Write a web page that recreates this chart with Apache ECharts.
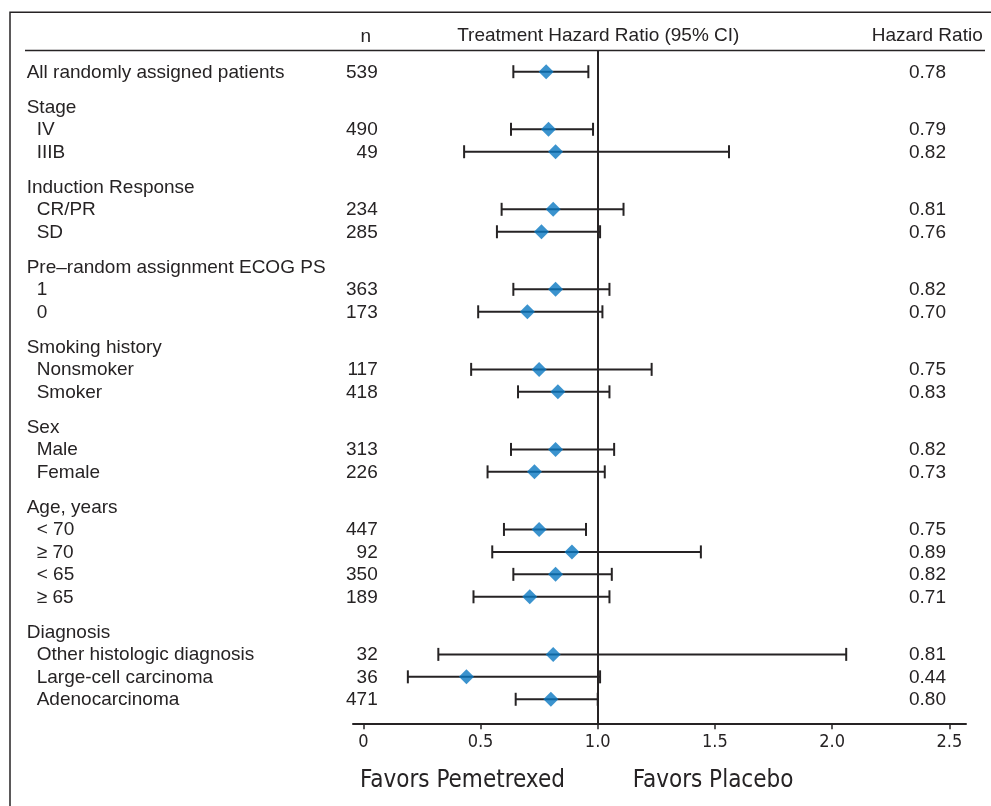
<!DOCTYPE html>
<html>
<head>
<meta charset="utf-8">
<script src="https://cdn.jsdelivr.net/npm/echarts@6/dist/echarts.min.js"></script>
<style>
html,body{margin:0;padding:0;background:#fff;}
#chart{width:991px;height:806px;}
</style>
</head>
<body>
<div id="chart"></div>
<script>
// ---- data ----
const rowLabels = [
  'All randomly assigned patients',
  'Stage', 'IV', 'IIIB',
  'Induction Response', 'CR/PR', 'SD',
  'Pre\u2013random assignment ECOG PS', '1', '0',
  'Smoking history', 'Nonsmoker', 'Smoker',
  'Sex', 'Male', 'Female',
  'Age, years', '< 70', '\u2265 70', '< 65', '\u2265 65',
  'Diagnosis', 'Other histologic diagnosis', 'Large-cell carcinoma', 'Adenocarcinoma'
];
const rowKinds = [
  'total',
  'group', 'item', 'item',
  'group', 'item', 'item',
  'group', 'item', 'item',
  'group', 'item', 'item',
  'group', 'item', 'item',
  'group', 'item', 'item', 'item', 'item',
  'group', 'item', 'item', 'item'
];
const nValues = [539, null, 490, 49, null, 234, 285, null, 363, 173, null, 117, 418, null, 313, 226, null, 447, 92, 350, 189, null, 32, 36, 471];
const hazardRatios = [0.78, null, 0.79, 0.82, null, 0.81, 0.76, null, 0.82, 0.70, null, 0.75, 0.83, null, 0.82, 0.73, null, 0.75, 0.89, 0.82, 0.71, null, 0.81, 0.44, 0.80];
const ciLower = [0.64, null, 0.63, 0.43, null, 0.59, 0.57, null, 0.64, 0.49, null, 0.46, 0.66, null, 0.63, 0.53, null, 0.60, 0.55, 0.64, 0.47, null, 0.32, 0.19, 0.65];
const ciUpper = [0.96, null, 0.98, 1.56, null, 1.11, 1.01, null, 1.05, 1.02, null, 1.23, 1.05, null, 1.07, 1.03, null, 0.95, 1.44, 1.06, 1.05, null, 2.06, 1.01, 1.00];
const tickValues = [0, 0.5, 1.0, 1.5, 2.0, 2.5];
const tickLabels = ['0', '0.5', '1.0', '1.5', '2.0', '2.5'];
const headerN = 'n';
const headerPlot = 'Treatment Hazard Ratio (95% CI)';
const headerHR = 'Hazard Ratio';
const favorsLeft = 'Favors Pemetrexed';
const favorsRight = 'Favors Placebo';

// ---- layout (row positions in axis units) ----
const GROUP_STEP = 1.565;
const rowPos = [];
rowLabels.forEach((l, i) => {
  if (i === 0) rowPos.push(0);
  else rowPos.push(rowPos[i - 1] + (rowKinds[i] === 'group' ? GROUP_STEP : 1));
});

const TEXT = '#262324';
const FONT = "'Liberation Sans', Arial, sans-serif";
const NARROW = "'DejaVu Sans Condensed', sans-serif";
const FS = 19;

const ciData = [];
const hrData = [];
rowLabels.forEach((l, i) => {
  if (hazardRatios[i] != null) {
    ciData.push([ciLower[i], ciUpper[i], rowPos[i]]);
    hrData.push([hazardRatios[i], rowPos[i]]);
  }
});
const textData = rowLabels.map((l, i) => [i, rowPos[i]]);

const chart = echarts.init(document.getElementById('chart'), null, {renderer: 'canvas'});
chart.setOption({
  backgroundColor: '#ffffff',
  animation: false,
  grid: {left: 353, right: 25, top: 50.5, bottom: 82.7, containLabel: false},
  xAxis: {
    type: 'value', min: -0.044, max: 2.571,
    splitLine: {show: false},
    axisLine: {show: true, onZero: false, lineStyle: {color: TEXT, width: 2}},
    axisTick: {show: true, customValues: tickValues, length: 6, lineStyle: {color: TEXT, width: 1.5}},
    axisLabel: {
      show: true, customValues: tickValues, margin: 10,
      formatter: v => tickLabels[tickValues.indexOf(v)] ?? String(v),
      color: TEXT, fontFamily: NARROW, fontSize: 18
    }
  },
  yAxis: {
    type: 'value', inverse: true, min: -0.944, max: 29.025, show: false
  },
  graphic: [
    {type: 'rect', shape: {x: 10, y: 12.3, width: 1000, height: 820}, style: {fill: 'none', stroke: TEXT, lineWidth: 1.5}, silent: true, z: 0},
    {type: 'line', shape: {x1: 25, y1: 50.5, x2: 985, y2: 50.5}, style: {stroke: TEXT, lineWidth: 1.5}, z: 5},
    {type: 'text', style: {text: headerN, x: 365.7, y: 36.5, align: 'center', verticalAlign: 'middle', fill: TEXT, fontSize: FS, fontFamily: FONT}},
    {type: 'text', style: {text: headerPlot, x: 598.3, y: 36, align: 'center', verticalAlign: 'middle', fill: TEXT, fontSize: FS, fontFamily: FONT}},
    {type: 'text', style: {text: headerHR, x: 982.7, y: 36, align: 'right', verticalAlign: 'middle', fill: TEXT, fontSize: FS, fontFamily: FONT}},
    {type: 'text', style: {text: favorsLeft, x: 360, y: 781, align: 'left', verticalAlign: 'middle', fill: TEXT, fontSize: 24, fontFamily: NARROW}},
    {type: 'text', style: {text: favorsRight, x: 632.7, y: 781, align: 'left', verticalAlign: 'middle', fill: TEXT, fontSize: 24, fontFamily: NARROW}}
  ],
  series: [
    {
      type: 'custom', name: 'ci', clip: false,
      data: ciData,
      renderItem: (params, api) => {
        const lo = api.coord([api.value(0), api.value(2)]);
        const hi = api.coord([api.value(1), api.value(2)]);
        const y = lo[1];
        const h = 6.5;
        const st = {stroke: TEXT, lineWidth: 2};
        return {type: 'group', children: [
          {type: 'line', shape: {x1: lo[0], y1: y, x2: hi[0], y2: y}, style: st},
          {type: 'line', shape: {x1: lo[0], y1: y - h, x2: lo[0], y2: y + h}, style: st},
          {type: 'line', shape: {x1: hi[0], y1: y - h, x2: hi[0], y2: y + h}, style: st}
        ]};
      },
      markLine: {
        silent: true, symbol: 'none', label: {show: false},
        lineStyle: {color: TEXT, width: 2, type: 'solid'},
        data: [{xAxis: 1}]
      },
      z: 3
    },
    {
      type: 'scatter', name: 'hr', data: hrData,
      symbol: 'diamond', symbolSize: 15,
      itemStyle: {color: '#0a78c2'}, z: 6
    },
    {
      type: 'custom', name: 'text', clip: false,
      data: textData,
      renderItem: (params, api) => {
        const i = api.value(0);
        const y = api.coord([0, api.value(1)])[1] + 0.8;
        const kids = [];
        const lx = rowKinds[i] === 'item' ? 36.7 : 26.7;
        kids.push({type: 'text', style: {text: rowLabels[i], x: lx, y: y, align: 'left', verticalAlign: 'middle', fill: TEXT, fontSize: FS, fontFamily: FONT}});
        if (nValues[i] != null) {
          kids.push({type: 'text', style: {text: String(nValues[i]), x: 377.7, y: y, align: 'right', verticalAlign: 'middle', fill: TEXT, fontSize: FS, fontFamily: FONT}});
        }
        if (hazardRatios[i] != null) {
          kids.push({type: 'text', style: {text: hazardRatios[i].toFixed(2), x: 946, y: y, align: 'right', verticalAlign: 'middle', fill: TEXT, fontSize: FS, fontFamily: FONT}});
        }
        return {type: 'group', children: kids};
      },
      z: 4
    }
  ]
});
</script>
</body>
</html>
